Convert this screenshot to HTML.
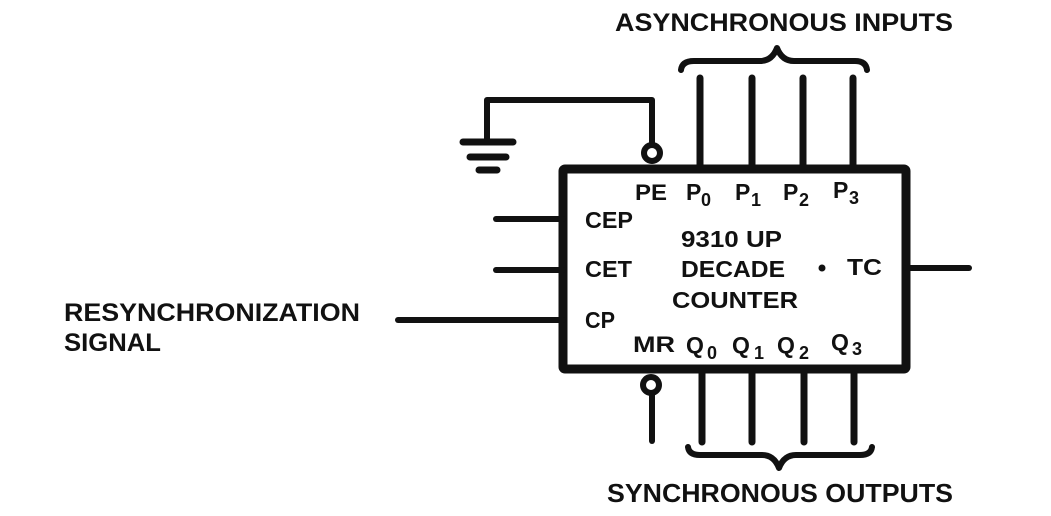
<!DOCTYPE html>
<html>
<head>
<meta charset="utf-8">
<style>
  html, body { margin:0; padding:0; background:#fff; }
  body { width:1051px; height:516px; overflow:hidden; }
  svg { display:block; }
  text { font-family: "Liberation Sans", "DejaVu Sans", sans-serif; font-weight:bold; fill:#111; }
</style>
</head>
<body>
<svg width="1051" height="516" viewBox="0 0 1051 516" xmlns="http://www.w3.org/2000/svg">
  <rect x="0" y="0" width="1051" height="516" fill="#fff"/>

  <g stroke="#111" fill="none" stroke-linecap="round" stroke-linejoin="round">
    <!-- main box -->
    <rect x="563" y="169" width="343" height="200" stroke-width="9" rx="2"/>

    <!-- top pins -->
    <line x1="700" y1="78" x2="700" y2="169" stroke-width="7"/>
    <line x1="752" y1="78" x2="752" y2="169" stroke-width="7"/>
    <line x1="803" y1="78" x2="803" y2="169" stroke-width="7"/>
    <line x1="853" y1="78" x2="853" y2="169" stroke-width="7"/>

    <!-- bottom pins -->
    <line x1="702" y1="369" x2="702" y2="442" stroke-width="7"/>
    <line x1="752" y1="369" x2="752" y2="442" stroke-width="7"/>
    <line x1="804" y1="369" x2="804" y2="442" stroke-width="7"/>
    <line x1="854" y1="369" x2="854" y2="442" stroke-width="7"/>

    <!-- PE bubble and ground wire -->
    <circle cx="652" cy="153" r="8" stroke-width="6"/>
    <polyline points="652,144 652,100 487,100 487,142" stroke-width="6"/>
    <line x1="463" y1="142" x2="513" y2="142" stroke-width="7"/>
    <line x1="470" y1="157" x2="506" y2="157" stroke-width="7"/>
    <line x1="479" y1="170" x2="497" y2="170" stroke-width="7"/>

    <!-- MR bubble -->
    <circle cx="651" cy="385" r="8" stroke-width="6"/>
    <line x1="652" y1="394" x2="652" y2="441" stroke-width="6"/>

    <!-- left inputs -->
    <line x1="496" y1="219" x2="563" y2="219" stroke-width="6"/>
    <line x1="496" y1="270" x2="563" y2="270" stroke-width="6"/>
    <line x1="398" y1="320" x2="563" y2="320" stroke-width="6"/>

    <!-- TC output -->
    <line x1="906" y1="268" x2="969" y2="268" stroke-width="6"/>

    <!-- top brace -->
    <path d="M681,70 Q682,61 694,61 L760,61 Q772,61 777,48 Q782,61 794,61 L855,61 Q866,61 867,70" stroke-width="6"/>
    <!-- bottom brace -->
    <path d="M688,447 Q689,455 700,455 L762,455 Q774,455 779,468 Q784,455 796,455 L860,455 Q871,455 872,447" stroke-width="6"/>
  </g>

  <!-- TC dot -->
  <circle cx="822" cy="268" r="3.5" fill="#111"/>

  <!-- outer labels -->
  <text x="615" y="31" font-size="25" textLength="338" lengthAdjust="spacingAndGlyphs">ASYNCHRONOUS INPUTS</text>
  <text x="607" y="502" font-size="26" textLength="346" lengthAdjust="spacingAndGlyphs">SYNCHRONOUS OUTPUTS</text>
  <text x="64" y="321" font-size="25" textLength="296" lengthAdjust="spacingAndGlyphs">RESYNCHRONIZATION</text>
  <text x="64" y="351" font-size="25" textLength="97" lengthAdjust="spacingAndGlyphs">SIGNAL</text>

  <!-- box labels -->
  <text x="635" y="200" font-size="22" textLength="32" lengthAdjust="spacingAndGlyphs">PE</text>
  <text x="686" y="200" font-size="23">P</text><text x="701" y="206" font-size="18">0</text>
  <text x="735" y="200" font-size="23">P</text><text x="751" y="206" font-size="18">1</text>
  <text x="783" y="200" font-size="23">P</text><text x="799" y="206" font-size="18">2</text>
  <text x="833" y="198" font-size="23">P</text><text x="849" y="204" font-size="18">3</text>

  <text x="585" y="228" font-size="23" textLength="48" lengthAdjust="spacingAndGlyphs">CEP</text>
  <text x="681" y="247" font-size="23" textLength="101" lengthAdjust="spacingAndGlyphs">9310 UP</text>
  <text x="585" y="277" font-size="23" textLength="47" lengthAdjust="spacingAndGlyphs">CET</text>
  <text x="681" y="277" font-size="23" textLength="104" lengthAdjust="spacingAndGlyphs">DECADE</text>
  <text x="847" y="275" font-size="23" textLength="35" lengthAdjust="spacingAndGlyphs">TC</text>
  <text x="672" y="308" font-size="23" textLength="126" lengthAdjust="spacingAndGlyphs">COUNTER</text>
  <text x="585" y="328" font-size="23" textLength="30" lengthAdjust="spacingAndGlyphs">CP</text>

  <text x="633" y="352" font-size="22" textLength="42" lengthAdjust="spacingAndGlyphs">MR</text>
  <text x="686" y="353" font-size="23">Q</text><text x="707" y="359" font-size="18">0</text>
  <text x="732" y="353" font-size="23">Q</text><text x="754" y="359" font-size="18">1</text>
  <text x="777" y="353" font-size="23">Q</text><text x="799" y="359" font-size="18">2</text>
  <text x="831" y="350" font-size="23">Q</text><text x="852" y="355" font-size="18">3</text>
</svg>
</body>
</html>
